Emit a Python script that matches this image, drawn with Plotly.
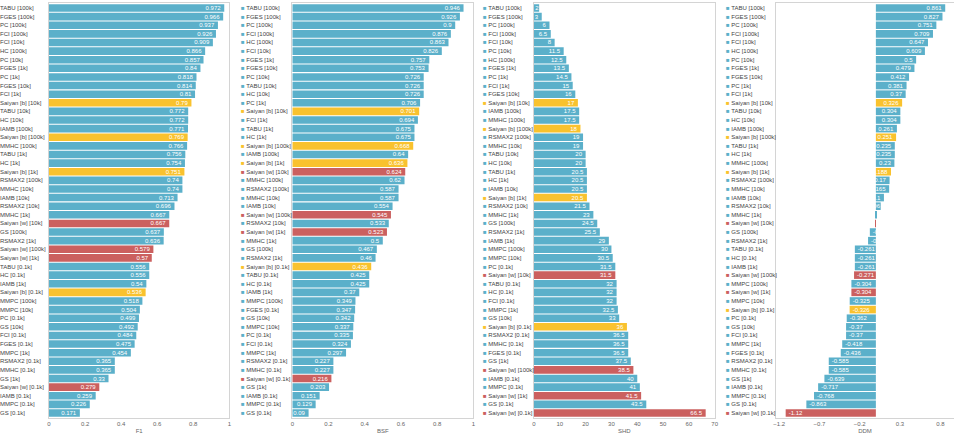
import plotly.graph_objects as go

# ---------------- data ----------------
f1_labels = ["TABU [100k]", "FGES [100k]", "PC [100k]", "FCI [100k]", "FCI [10k]", "HC [100k]",
             "PC [10k]", "FGES [1k]", "PC [1k]", "FGES [10k]", "FCI [1k]", "Saiyan [b] [10k]",
             "TABU [10k]", "HC [10k]", "IAMB [100k]", "Saiyan [b] [100k]", "MMHC [100k]", "TABU [1k]",
             "HC [1k]", "Saiyan [b] [1k]", "RSMAX2 [100k]", "MMHC [10k]", "IAMB [10k]", "RSMAX2 [10k]",
             "MMHC [1k]", "Saiyan [w] [10k]", "GS [100k]", "RSMAX2 [1k]", "Saiyan [w] [100k]",
             "Saiyan [w] [1k]", "TABU [0.1k]", "HC [0.1k]", "IAMB [1k]", "Saiyan [b] [0.1k]",
             "MMPC [100k]", "MMPC [10k]", "PC [0.1k]", "GS [10k]", "FCI [0.1k]", "FGES [0.1k]",
             "MMPC [1k]", "RSMAX2 [0.1k]", "MMHC [0.1k]", "GS [1k]", "Saiyan [w] [0.1k]",
             "IAMB [0.1k]", "MMPC [0.1k]", "GS [0.1k]"]
f1_values = [0.972, 0.966, 0.937, 0.926, 0.909, 0.866, 0.857, 0.84, 0.818, 0.814, 0.81, 0.79,
             0.772, 0.772, 0.771, 0.769, 0.766, 0.756, 0.754, 0.751, 0.74, 0.74, 0.713, 0.696,
             0.667, 0.667, 0.637, 0.636, 0.579, 0.57, 0.556, 0.556, 0.54, 0.536, 0.518, 0.504,
             0.499, 0.492, 0.484, 0.475, 0.454, 0.365, 0.365, 0.33, 0.279, 0.259, 0.226, 0.171]

bsf_labels = ["TABU [100k]", "FGES [100k]", "PC [100k]", "FCI [100k]", "HC [100k]", "FCI [10k]",
              "FGES [1k]", "FGES [10k]", "PC [10k]", "TABU [10k]", "HC [10k]", "PC [1k]",
              "Saiyan [b] [10k]", "FCI [1k]", "TABU [1k]", "HC [1k]", "Saiyan [b] [100k]",
              "IAMB [100k]", "Saiyan [b] [1k]", "Saiyan [w] [10k]", "MMHC [100k]", "RSMAX2 [100k]",
              "MMHC [10k]", "IAMB [10k]", "Saiyan [w] [100k]", "RSMAX2 [10k]", "Saiyan [w] [1k]",
              "MMHC [1k]", "GS [100k]", "RSMAX2 [1k]", "Saiyan [b] [0.1k]", "TABU [0.1k]",
              "HC [0.1k]", "IAMB [1k]", "MMPC [100k]", "FGES [0.1k]", "GS [10k]", "MMPC [10k]",
              "PC [0.1k]", "FCI [0.1k]", "MMPC [1k]", "RSMAX2 [0.1k]", "MMHC [0.1k]",
              "Saiyan [w] [0.1k]", "GS [1k]", "IAMB [0.1k]", "MMPC [0.1k]", "GS [0.1k]"]
bsf_values = [0.946, 0.926, 0.9, 0.876, 0.863, 0.826, 0.757, 0.753, 0.726, 0.726, 0.726, 0.706,
              0.701, 0.694, 0.675, 0.675, 0.668, 0.64, 0.636, 0.624, 0.62, 0.587, 0.587, 0.554,
              0.545, 0.533, 0.523, 0.5, 0.467, 0.46, 0.436, 0.425, 0.425, 0.37, 0.349, 0.347,
              0.342, 0.337, 0.335, 0.324, 0.297, 0.227, 0.227, 0.216, 0.203, 0.151, 0.129, 0.09]

shd_labels = ["TABU [100k]", "FGES [100k]", "PC [100k]", "FCI [100k]", "FCI [10k]", "PC [10k]",
              "HC [100k]", "FGES [1k]", "PC [1k]", "FCI [1k]", "FGES [10k]", "Saiyan [b] [10k]",
              "IAMB [100k]", "MMHC [100k]", "Saiyan [b] [100k]", "RSMAX2 [100k]", "MMHC [10k]",
              "TABU [10k]", "HC [10k]", "TABU [1k]", "HC [1k]", "IAMB [10k]", "Saiyan [b] [1k]",
              "RSMAX2 [10k]", "MMHC [1k]", "GS [100k]", "RSMAX2 [1k]", "IAMB [1k]", "MMPC [100k]",
              "MMPC [10k]", "PC [0.1k]", "Saiyan [w] [10k]", "TABU [0.1k]", "HC [0.1k]",
              "FCI [0.1k]", "MMPC [1k]", "GS [10k]", "Saiyan [b] [0.1k]", "RSMAX2 [0.1k]",
              "MMHC [0.1k]", "FGES [0.1k]", "GS [1k]", "Saiyan [w] [100k]", "IAMB [0.1k]",
              "MMPC [0.1k]", "Saiyan [w] [1k]", "GS [0.1k]", "Saiyan [w] [0.1k]"]
shd_values = [2, 3, 6, 6.5, 8, 11.5, 12.5, 13.5, 14.5, 15, 16, 17, 17.5, 17.5, 18, 19, 19,
              20, 20, 20.5, 20.5, 20.5, 20.5, 21.5, 23, 24.5, 25.5, 29, 30, 30.5, 31.5, 31.5,
              32, 32, 32, 32.5, 33, 36, 36.5, 36.5, 36.5, 37.5, 38.5, 40, 41, 41.5, 43.5, 66.5]

ddm_labels = ["TABU [100k]", "FGES [100k]", "PC [100k]", "FCI [100k]", "FCI [10k]", "HC [100k]",
              "PC [10k]", "FGES [1k]", "FGES [10k]", "PC [1k]", "FCI [1k]", "Saiyan [b] [10k]",
              "TABU [10k]", "HC [10k]", "IAMB [100k]", "Saiyan [b] [100k]", "TABU [1k]", "HC [1k]",
              "MMHC [100k]", "Saiyan [b] [1k]", "RSMAX2 [100k]", "MMHC [10k]", "IAMB [10k]",
              "RSMAX2 [10k]", "MMHC [1k]", "Saiyan [w] [10k]", "GS [100k]", "RSMAX2 [1k]",
              "TABU [0.1k]", "HC [0.1k]", "IAMB [1k]", "Saiyan [w] [100k]", "MMPC [100k]",
              "Saiyan [w] [1k]", "MMPC [10k]", "Saiyan [b] [0.1k]", "PC [0.1k]", "GS [10k]",
              "FCI [0.1k]", "MMPC [1k]", "FGES [0.1k]", "RSMAX2 [0.1k]", "MMHC [0.1k]", "GS [1k]",
              "IAMB [0.1k]", "MMPC [0.1k]", "GS [0.1k]", "Saiyan [w] [0.1k]"]
ddm_values = [0.861, 0.827, 0.751, 0.709, 0.647, 0.609, 0.5, 0.479, 0.412, 0.381, 0.37, 0.326,
              0.304, 0.304, 0.261, 0.251, 0.235, 0.235, 0.23, 0.188, 0.17, 0.165, 0.1, 0.06,
              0.01, -0.01, -0.075, -0.097, -0.261, -0.261, -0.261, -0.271, -0.304, -0.304,
              -0.325, -0.326, -0.362, -0.37, -0.37, -0.418, -0.436, -0.585, -0.585, -0.639,
              -0.717, -0.768, -0.863, -1.12]

f1_ticks = [0, 0.2, 0.4, 0.6, 0.8, 1]
bsf_ticks = [0, 0.2, 0.4, 0.6, 0.8, 1]
shd_ticks = [0, 10, 20, 30, 40, 50, 60, 70]
ddm_ticks = [-1.2, -0.7, -0.2, 0.3, 0.8]

# ---------------- style ----------------
W, H = 954, 437
BLUE = "#5BB0CA"
YELLOW = "#F9C22E"
RED = "#CB605F"
FONT = "Liberation Sans, Arial, sans-serif"
LABEL_COLOR = "#444444"
AXIS_COLOR = "#666666"
BORDER = "#D4D4D4"


def color_of(lbl):
    if lbl.startswith("Saiyan [b]"):
        return YELLOW
    if lbl.startswith("Saiyan [w]"):
        return RED
    return BLUE


panels = [
    dict(labels=f1_labels, values=f1_values, title="F1", px=(49, 229.3), rng=[0, 1],
         ticks=f1_ticks, labelx=-2.5, square=False),
    dict(labels=bsf_labels, values=bsf_values, title="BSF", px=(292.3, 473.3), rng=[0, 1],
         ticks=bsf_ticks, labelx=238.5, square=True),
    dict(labels=shd_labels, values=shd_values, title="SHD", px=(534, 714.7), rng=[0, 70],
         ticks=shd_ticks, labelx=480.5, square=True),
    dict(labels=ddm_labels, values=ddm_values, title="DDM", px=(776, 954), rng=[-1.24, 0.97],
         ticks=ddm_ticks, labelx=723.5, square=True),
]

fig = go.Figure()
annotations = []

for i, p in enumerate(panels):
    n = "" if i == 0 else str(i + 1)
    colors = [color_of(l) for l in p["labels"]]
    texts = [("" if abs(v) < 0.02 else f"{v:g}") for v in p["values"]]
    fig.add_trace(go.Bar(
        x=p["values"], y=p["labels"], orientation="h",
        marker=dict(color=colors, line=dict(width=0)),
        text=texts, textposition="inside", insidetextanchor="end", textangle=0,
        textfont=dict(color="white", size=6, family=FONT),
        xaxis="x" + n, yaxis="y" + n, showlegend=False, hoverinfo="x+y",
    ))
    fig.update_layout(**{
        "xaxis" + n: dict(
            domain=[p["px"][0] / W, p["px"][1] / W], range=p["rng"], anchor="y" + n,
            tickvals=p["ticks"], showgrid=False, zeroline=False,
            showline=True, mirror=True, linecolor=BORDER, linewidth=1, ticks="",
            tickfont=dict(size=6, color=AXIS_COLOR, family=FONT),
            title=dict(text=p["title"], font=dict(size=6, color=AXIS_COLOR, family=FONT), standoff=2),
            automargin=False, fixedrange=True,
        ),
        "yaxis" + n: dict(
            domain=[0, 1], anchor="x" + n, type="category",
            categoryorder="array", categoryarray=p["labels"], autorange="reversed",
            showticklabels=False, showgrid=False, zeroline=False, ticks="",
            showline=True, mirror=True, linecolor=BORDER, linewidth=1,
            automargin=False, fixedrange=True,
        ),
    })
    for k, lbl in enumerate(p["labels"]):
        if p["square"]:
            txt = f"<span style='color:{color_of(lbl)}'>■</span> {lbl}"
        else:
            txt = lbl
        annotations.append(dict(
            xref="paper", x=p["labelx"] / W, xanchor="left",
            yref="y" + n, y=k, yanchor="middle",
            text=txt, showarrow=False,
            font=dict(size=6, color=LABEL_COLOR, family=FONT),
        ))

fig.update_layout(
    width=W, height=H,
    margin=dict(l=0, r=0, t=3, b=19, pad=0),
    paper_bgcolor="white", plot_bgcolor="white",
    bargap=0.12,
    uniformtext=dict(minsize=6, mode="show"),
    annotations=annotations,
    font=dict(family=FONT),
)

fig.write_html("out.html")
